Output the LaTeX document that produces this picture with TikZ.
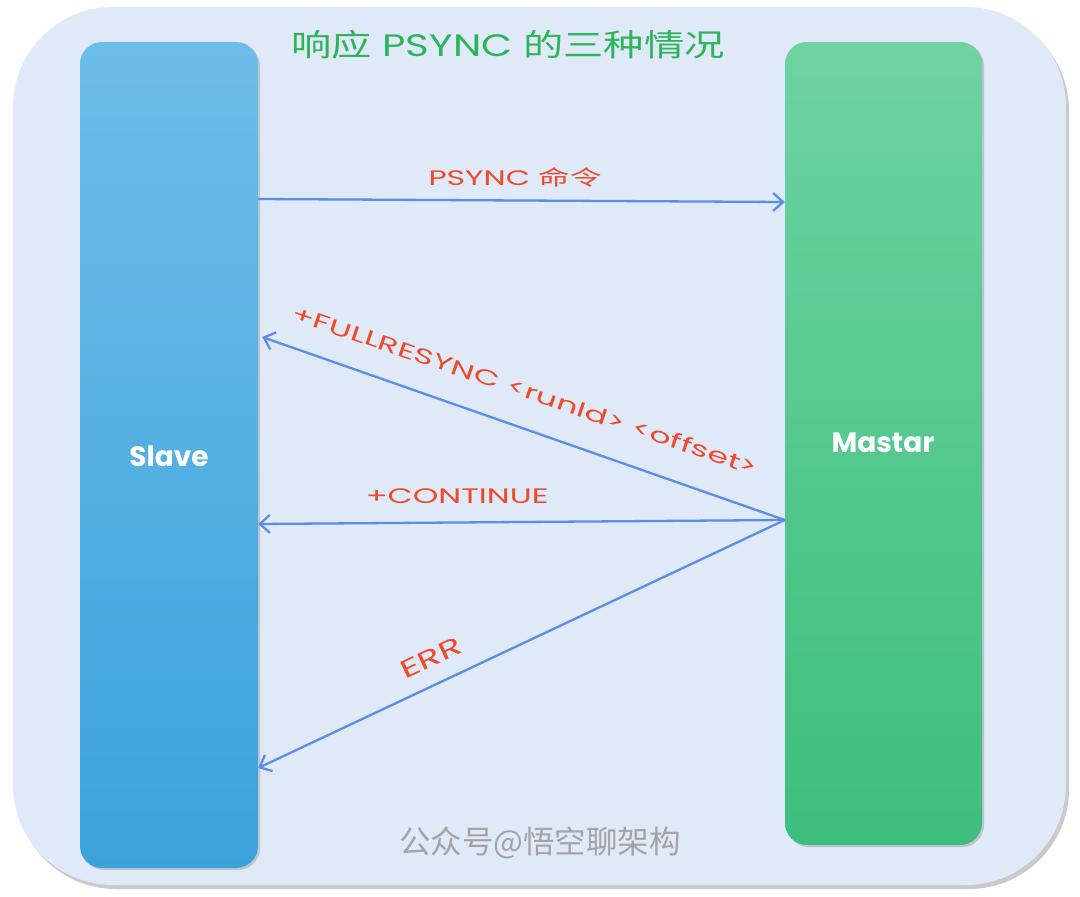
\documentclass[tikz,border=0pt]{standalone}
\usepackage{fontspec}
\setmainfont{Poppins}
\newfontfamily\cjk{Noto Sans CJK SC}
\usetikzlibrary{arrows.meta,shadows,calc}
\definecolor{bgfill}{HTML}{DFE9F8}
\definecolor{arrowc}{HTML}{5B8EE6}
\definecolor{labelc}{HTML}{F04A2A}
\definecolor{titlec}{HTML}{2DB55A}
\definecolor{slavetop}{HTML}{6DBDE9}
\definecolor{slavebot}{HTML}{3BA3DB}
\definecolor{mastertop}{HTML}{6DD3A1}
\definecolor{masterbot}{HTML}{3DBE7E}
\definecolor{wmc}{HTML}{A3A3A3}
\tikzset{
  box/.style={draw=none, rounded corners=22pt, inner sep=0pt,
    drop shadow={shadow xshift=2pt, shadow yshift=-2pt, opacity=0.35}},
  msg/.style={draw=arrowc, line width=2.3pt, -{Straight Barb[length=10pt,width=18pt,line width=2.3pt]}},
  lbl/.style={text=labelc, font=\fontsize{21}{23}\selectfont, inner sep=0pt},
  boxlbl/.style={text=white, font=\fontsize{28}{30}\selectfont\bfseries, inner sep=0pt}
}
\begin{document}
\begin{tikzpicture}[x=1pt,y=-1pt]
\useasboundingbox (0,0) rectangle (1080,897);
% background
\fill[black!35, opacity=0.6, rounded corners=100pt] (16,11) rectangle (1069,889);
\fill[bgfill, rounded corners=100pt] (13,7) rectangle (1066,885);
% boxes
\node[box, top color=slavetop, bottom color=slavebot, minimum width=178pt, minimum height=826pt] (slave) at (169,455) {};
\node[box, top color=mastertop, bottom color=masterbot, minimum width=197pt, minimum height=803pt] (master) at (883.5,443.5) {};
\node[boxlbl] (slavet) at (169,456) {Slave};
\node[boxlbl] (mastert) at (883,443) {Mastar};
% title
\node[text=titlec, font=\fontsize{31}{34}\selectfont, inner sep=0pt, xscale=1.3] (title) at (508,45) {{\cjk 响应} PSYNC {\cjk 的三种情况}};
% connectors
\draw[msg] (slave.east |- 0,199) -- (master.west |- 0,202);
\draw[msg] (master.west |- 0,520) -- ($(slave.east |- 0,337)+(4,0)$);
\draw[msg] (master.west |- 0,520) -- (slave.east |- 0,524);
\draw[msg] (master.west |- 0,520) -- (slave.east |- 0,768);
% labels
\node[lbl, xscale=1.5] (l1) at (515,177) {PSYNC {\cjk 命令}};
\node[lbl, rotate=-18.6, xscale=1.6] (l2) at (525,390) {+FULLRESYNC <runId> <offset>};
\node[lbl, xscale=1.55] (l3) at (457,496) {+CONTINUE};
\node[lbl, rotate=25, xscale=1.5, font=\fontsize{25}{27}\selectfont] (l4) at (431,658) {ERR};
% watermark
\node[text=wmc, font=\cjk\fontsize{31.5}{33}\selectfont, inner sep=0pt] (wm) at (540,843) {公众号@悟空聊架构};
\end{tikzpicture}
\end{document}
